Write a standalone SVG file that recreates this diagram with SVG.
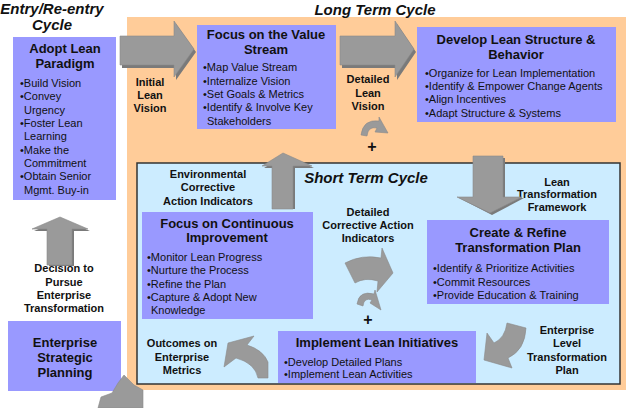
<svg xmlns="http://www.w3.org/2000/svg" width="627" height="408" viewBox="0 0 627 408">
<style>
text{font-family:"Liberation Sans",Arial,Helvetica,sans-serif;fill:#111}
.h{font-size:13px;font-weight:bold;text-anchor:middle}
.b{font-size:11px}
.l{font-size:11px;font-weight:bold;text-anchor:middle}
.c{font-size:15px;font-weight:bold;font-style:italic}
.box{fill:#9999FF}
.sh{fill:#7a7a7a}
.ar{fill:#9a9a9a;stroke:#8a8a8a;stroke-width:0.6}
</style>
<rect width="627" height="408" fill="#fff"/>
<g id="long-term-cycle">
<rect x="127" y="17" width="499" height="373" fill="#FFCC99"/>
<text class="c" x="375" y="15" text-anchor="middle">Long Term Cycle</text>
</g>
<g id="short-term-cycle">
<rect x="137" y="163" width="483" height="221" fill="#CCECFF" stroke="#333" stroke-width="1.5"/>
<text class="c" x="366" y="183" text-anchor="middle">Short Term Cycle</text>
</g>
<g id="entry-title">
<text class="c" x="52" y="14" text-anchor="middle">Entry/Re-entry</text>
<text class="c" x="52" y="30" text-anchor="middle">Cycle</text>
</g>
<g id="adopt-lean-paradigm">
<rect class="box" x="13" y="37" width="103" height="163"/>
<text class="h" x="65" y="53">Adopt Lean</text>
<text class="h" x="65" y="68">Paradigm</text>
<text class="b" x="20" y="87">•Build Vision</text>
<text class="b" x="20" y="100">•Convey</text>
<text class="b" x="24" y="114">Urgency</text>
<text class="b" x="20" y="127">•Foster Lean</text>
<text class="b" x="24" y="140">Learning</text>
<text class="b" x="20" y="154">•Make the</text>
<text class="b" x="24" y="167">Commitment</text>
<text class="b" x="20" y="180">•Obtain Senior</text>
<text class="b" x="24" y="194">Mgmt. Buy-in</text>
</g>
<g id="focus-value-stream">
<rect class="box" x="197" y="25" width="139" height="104"/>
<text class="h" x="266" y="39">Focus on the Value</text>
<text class="h" x="266" y="54">Stream</text>
<text class="b" x="203" y="71">•Map Value Stream</text>
<text class="b" x="203" y="85">•Internalize Vision</text>
<text class="b" x="203" y="98">•Set Goals &amp; Metrics</text>
<text class="b" x="203" y="111">•Identify &amp; Involve Key</text>
<text class="b" x="207" y="125">Stakeholders</text>
</g>
<g id="develop-lean-structure">
<rect class="box" x="417" y="27" width="199" height="95"/>
<text class="h" x="516" y="44">Develop Lean Structure &amp;</text>
<text class="h" x="516" y="59">Behavior</text>
<text class="b" x="425" y="77">•Organize for Lean Implementation</text>
<text class="b" x="425" y="90">•Identify &amp; Empower Change Agents</text>
<text class="b" x="425" y="103">•Align Incentives</text>
<text class="b" x="425" y="117">•Adapt Structure &amp; Systems</text>
</g>
<g id="focus-continuous-improvement">
<rect class="box" x="142" y="212" width="171" height="107"/>
<text class="h" x="227" y="228">Focus on Continuous</text>
<text class="h" x="227" y="242">Improvement</text>
<text class="b" x="147" y="261">•Monitor Lean Progress</text>
<text class="b" x="147" y="274">•Nurture the Process</text>
<text class="b" x="147" y="288">•Refine the Plan</text>
<text class="b" x="147" y="301">•Capture &amp; Adopt New</text>
<text class="b" x="151" y="314">Knowledge</text>
</g>
<g id="create-refine-plan">
<rect class="box" x="427" y="220" width="182" height="84"/>
<text class="h" x="518" y="237">Create &amp; Refine</text>
<text class="h" x="518" y="252">Transformation Plan</text>
<text class="b" x="433" y="272">•Identify &amp; Prioritize Activities</text>
<text class="b" x="433" y="286">•Commit Resources</text>
<text class="b" x="433" y="299">•Provide Education &amp; Training</text>
</g>
<g id="implement-lean-initiatives">
<rect class="box" x="278" y="331" width="198" height="52"/>
<text class="h" x="377" y="347">Implement Lean Initiatives</text>
<text class="b" x="284" y="366">•Develop Detailed Plans</text>
<text class="b" x="284" y="378">•Implement Lean Activities</text>
</g>
<g id="enterprise-strategic-planning">
<rect class="box" x="8" y="321" width="113" height="70"/>
<text class="h" x="65" y="347">Enterprise</text>
<text class="h" x="65" y="362">Strategic</text>
<text class="h" x="65" y="377">Planning</text>
</g>
<g id="labels">
<text class="l" x="150" y="86">Initial</text>
<text class="l" x="150" y="99">Lean</text>
<text class="l" x="150" y="112">Vision</text>
<text class="l" x="368" y="83">Detailed</text>
<text class="l" x="368" y="97">Lean</text>
<text class="l" x="368" y="110">Vision</text>
<text class="l" x="208" y="178">Environmental</text>
<text class="l" x="208" y="191">Corrective</text>
<text class="l" x="208" y="205">Action Indicators</text>
<text class="l" x="368" y="216">Detailed</text>
<text class="l" x="368" y="229">Corrective Action</text>
<text class="l" x="368" y="242">Indicators</text>
<text class="l" x="557" y="186">Lean</text>
<text class="l" x="557" y="198">Transformation</text>
<text class="l" x="557" y="211">Framework</text>
<text class="l" x="567" y="334">Enterprise</text>
<text class="l" x="567" y="347">Level</text>
<text class="l" x="567" y="361">Transformation</text>
<text class="l" x="567" y="374">Plan</text>
<text class="l" x="182" y="347">Outcomes on</text>
<text class="l" x="182" y="361">Enterprise</text>
<text class="l" x="182" y="374">Metrics</text>
<text class="l" x="64" y="272">Decision to</text>
<text class="l" x="64" y="286">Pursue</text>
<text class="l" x="64" y="299">Enterprise</text>
<text class="l" x="64" y="312">Transformation</text>
<text x="372" y="152" font-size="16" font-weight="bold" text-anchor="middle">+</text>
<text x="368" y="325" font-size="16" font-weight="bold" text-anchor="middle">+</text>
</g>
<g id="connectors">
<polygon class="sh" points="122,38 176,38 176,24 196,52 176,80 176,68 122,68"/>
<polygon class="ar" points="120,36 174,36 174,21 194,49 174,77 174,65 120,65"/>
<polygon class="sh" points="342,38 397,38 397,24 416,52 397,80 397,68 342,68"/>
<polygon class="ar" points="340,36 395,36 395,21 414,49 395,77 395,65 340,65"/>
<polygon class="sh" points="475,158 505,158 505,198 524,198 492,215 459,198 475,198"/>
<polygon class="ar" points="473,156 503,156 503,197 522,197 490,213 457,197 473,197"/>
<polygon class="sh" points="274,209 295,209 295,168 314,168 285,155 264,168 274,168"/>
<polygon class="ar" points="272,209 293,209 293,166 312,166 283,153 262,166 272,166"/>
<polygon class="sh" points="49,266 74,266 74,231 90,231 62,219 34,231 49,231"/>
<polygon class="ar" points="47,265 72,265 72,229 88,229 60,217 32,229 47,229"/>
<path class="ar" d="M361,135 Q363,119 379,121 L379,117 L388,133 L375,132 L377,128 Q368,126 367,136 Z"/>
<path class="ar" d="M345,263 Q362,254 381,258 L382,248 L393,273 L377,292 L378,281 Q365,277 355,283 Z"/>
<path class="ar" d="M357,304 Q359,290 374,294 L375,290 L381,310 L370,303 L372,300 Q364,297 363,306 Z"/>
<path class="ar" d="M507,323 L526,328 Q525,350 508,358 L512,368 L484,360 L487,333 L494,343 Q505,338 507,323 Z"/>
<path class="ar" d="M228,343 L254,336 L247,345 Q263,350 268,362 L268,378 L258,378 Q255,363 236,358 L224,367 Z"/>
<polygon class="ar" points="98,408 101,397 112,393 118,383 124,375 134,385 143,390 143,408"/>
</g>
</svg>
